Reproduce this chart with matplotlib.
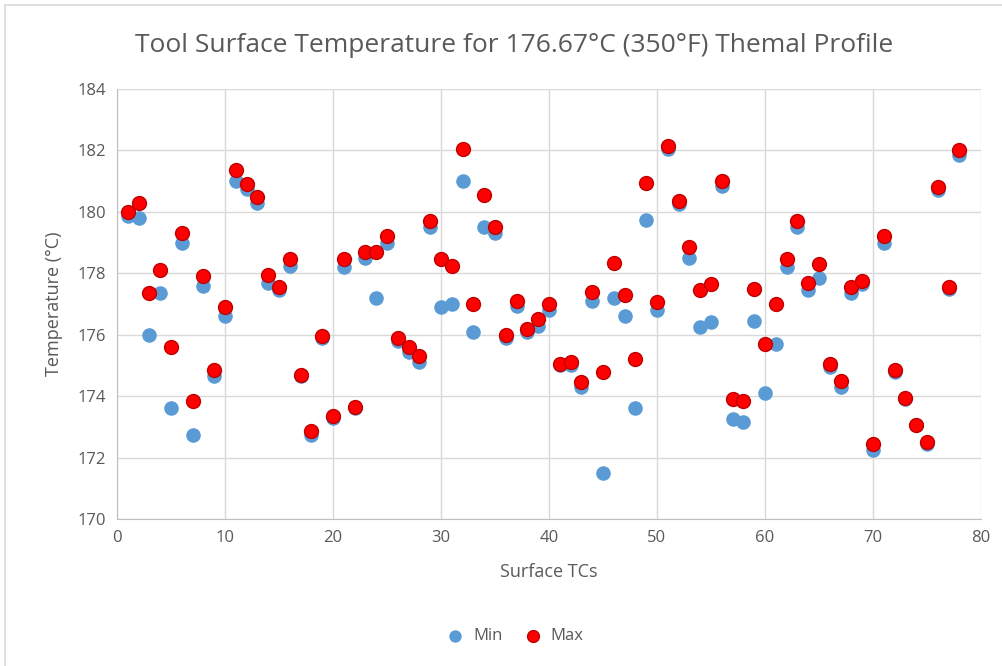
import matplotlib.pyplot as plt
from matplotlib.patches import Rectangle

# Surface thermocouple numbers and readings (deg C)
tc = list(range(1, 79))
t_min = [179.85, 179.8, 176.0, 177.35, 173.6, 179.0, 172.75, 177.6, 174.65, 176.6,
         181.0, 180.75, 180.3, 177.7, 177.45, 178.25, 174.65, 172.75, 175.9, 173.3,
         178.2, 173.6, 178.5, 177.2, 179.0, 175.8, 175.45, 175.1, 179.5, 176.9,
         177.0, 181.0, 176.1, 179.5, 179.3, 175.9, 176.95, 176.1, 176.3, 176.8,
         175.0, 175.0, 174.3, 177.1, 171.5, 177.2, 176.6, 173.6, 179.75, 176.8,
         182.05, 180.25, 178.5, 176.25, 176.4, 180.85, 173.25, 173.15, 176.45, 174.1,
         175.7, 178.2, 179.5, 177.45, 177.85, 174.95, 174.3, 177.35, 177.65, 172.25,
         179.0, 174.8, 173.9, 173.05, 172.45, 180.7, 177.5, 181.85]
t_max = [180.0, 180.3, 177.35, 178.1, 175.6, 179.3, 173.85, 177.9, 174.85, 176.9,
         181.35, 180.9, 180.5, 177.95, 177.55, 178.45, 174.7, 172.85, 175.95, 173.35,
         178.45, 173.65, 178.7, 178.7, 179.2, 175.9, 175.6, 175.3, 179.7, 178.45,
         178.25, 182.05, 177.0, 180.55, 179.5, 176.0, 177.1, 176.2, 176.5, 177.0,
         175.05, 175.1, 174.45, 177.4, 174.8, 178.35, 177.3, 175.2, 180.95, 177.05,
         182.15, 180.35, 178.85, 177.45, 177.65, 181.0, 173.9, 173.85, 177.5, 175.7,
         177.0, 178.45, 179.7, 177.7, 178.3, 175.05, 174.5, 177.55, 177.75, 172.45,
         179.2, 174.85, 173.95, 173.05, 172.5, 180.8, 177.55, 182.0]

gray = '#595959'
plt.rcParams['font.family'] = ['Open Sans', 'DejaVu Sans']

fig = plt.figure(figsize=(10.02, 6.66), dpi=100)
ax = fig.add_axes([117 / 1002, 1 - 519 / 666, (981 - 117) / 1002, (519 - 89) / 666])

ax.scatter(tc, t_min, s=110, color='#5B9BD5', linewidths=0, label='Min', zorder=3)
ax.scatter(tc, t_max, s=100, color='#FF0000', edgecolors='#C00000', linewidths=1,
           label='Max', zorder=4)

ax.set_xlim(0, 80)
ax.set_ylim(170, 184)
ax.set_xticks(range(0, 81, 10))
ax.set_yticks(range(170, 185, 2))
ax.grid(True, color='#D9D9D9', linewidth=1)
ax.set_axisbelow(True)
for side in ['top', 'right']:
    ax.spines[side].set_visible(False)
for side in ['left', 'bottom']:
    ax.spines[side].set_color('#BFBFBF')
ax.tick_params(length=0, colors=gray, labelsize=12, pad=8)

ax.set_xlabel('Surface TCs', color=gray, fontsize=13, labelpad=12)
ax.set_ylabel('Temperature (°C)', color=gray, fontsize=13, labelpad=10)
fig.suptitle('Tool Surface Temperature for 176.67°C (350°F) Themal Profile',
             color=gray, fontsize=19, x=0.513, y=1 - 45 / 666, va='center')

leg = fig.legend(loc='center', bbox_to_anchor=(0.51, 1 - 636 / 666), ncol=2, frameon=False,
                 fontsize=12, handletextpad=0.1, columnspacing=0.8, markerscale=0.85)
for t in leg.get_texts():
    t.set_color(gray)

# chart border
fig.patches.append(Rectangle((5 / 1002, -0.01), 1.02, 1 - 5 / 666 + 0.01, transform=fig.transFigure,
                             fill=False, edgecolor='#D9D9D9', linewidth=1.2))

fig.savefig('out.png', dpi=100)
